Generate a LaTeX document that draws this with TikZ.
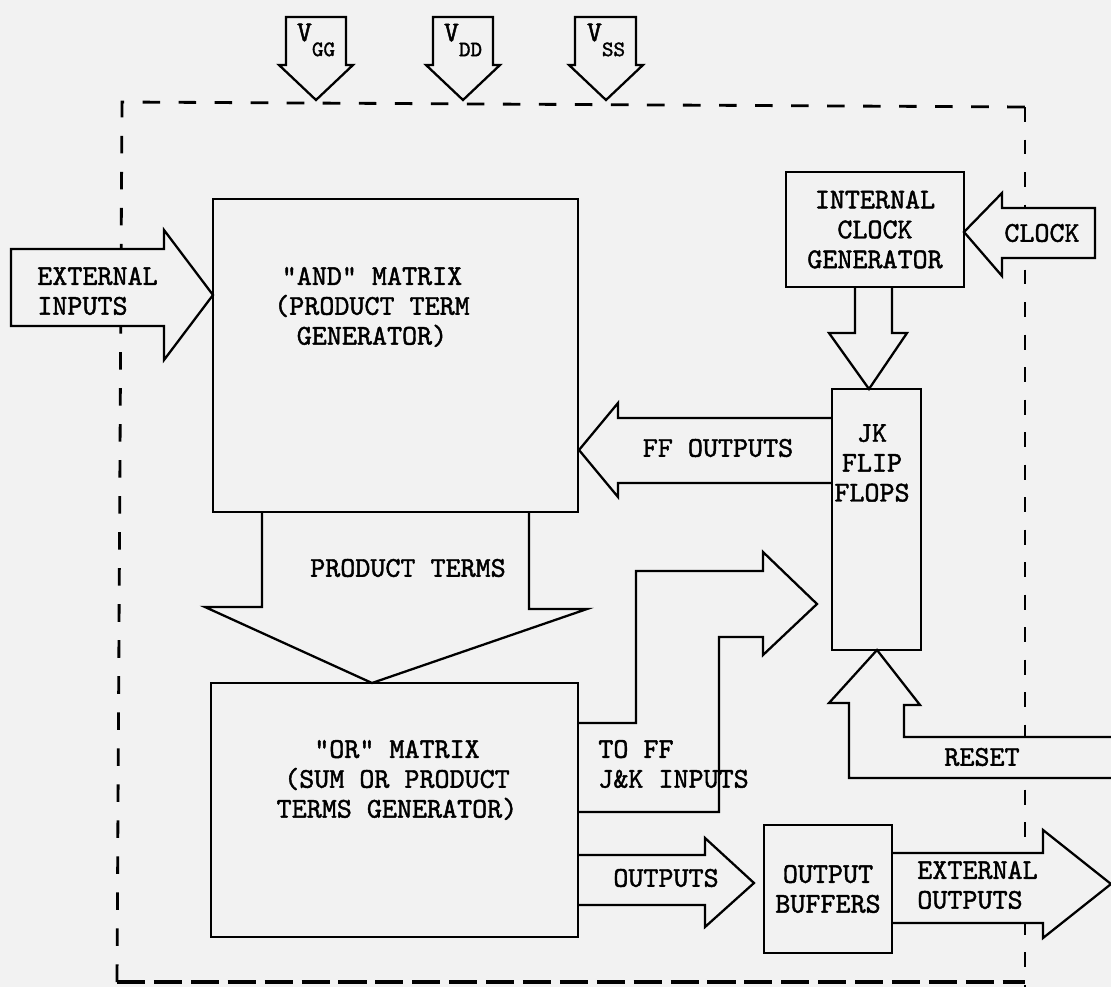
\documentclass[tikz,border=0pt]{standalone}
\usepackage{fontspec}
\usepackage{tikz}
\newfontfamily\typed{lmmono10-regular.otf}[FakeBold=1.5]
\colorlet{paper}{black!5}
\tikzset{>=latex}
\tikzset{
    box/.style={draw, line width=1.3pt, inner sep=0pt, align=center,
        font=\typed\fontsize{16.3}{17}\selectfont},
    blk/.style={draw, fill=paper, line width=1.3pt, line join=miter},
    lbl/.style={inner sep=0pt, align=center, font=\typed\fontsize{16.3}{17}\selectfont},
    sub/.style={font=\typed\fontsize{12.5}{12.5}\selectfont},
}

\begin{document}
\begin{tikzpicture}[x=0.2mm, y=-0.2mm]
    \useasboundingbox[fill=paper] (0,0) rectangle (1111,987);
    % chip outline
    \draw[line width=1.6pt, dash pattern=on 10pt off 10.5pt] (117,982)--(122,102)--(1025,107);
    \draw[line width=1.6pt, dash pattern=on 8.5pt off 10pt] (1025,107)--(1025,987);
    \draw[line width=2.8pt, dash pattern=on 16pt off 5pt] (117,982)--(1025,982);

    % supplies
    \draw[blk](286,17)--(346,17)--(346,65)--(353,65)--(316,100)--(279,65)--(286,65)--cycle;
    \draw[blk](433,17)--(493,17)--(493,65)--(500,65)--(463,100)--(426,65)--(433,65)--cycle;
    \draw[blk](575,17)--(636,17)--(636,65)--(643,65)--(606,100)--(569,65)--(575,65)--cycle;
    \node[lbl] (vgg) at (316,40) {V\raisebox{-8.5pt}{\tikz[baseline]\node[sub,inner sep=0pt,anchor=base]{GG};}};
    \node[lbl] (vdd) at (463,40) {V\raisebox{-8.5pt}{\tikz[baseline]\node[sub,inner sep=0pt,anchor=base]{DD};}};
    \node[lbl] (vss) at (606,40) {V\raisebox{-8.5pt}{\tikz[baseline]\node[sub,inner sep=0pt,anchor=base]{SS};}};

    % inputs
    \draw[blk](11,249)--(164,249)--(164,230)--(213,295)--(164,360)--(164,326)--(11,326)--cycle;
    \node[lbl, anchor=west, align=left] (extin) at (37,291) {EXTERNAL\\INPUTS};
    \draw[blk](964,232)--(1002,193)--(1002,208)--(1095,208)--(1095,258)--(1002,258)--(1002,276)--cycle;
    \node[lbl] (clk) at (1042,233) {CLOCK};
    \draw[blk](855,287)--(855,333)--(829,333)--(869,389)--(907,333)--(892,333)--(892,287);
    \draw[blk](1111,737)--(904,737)--(904,705)--(920,705)--(877,650)--(829,703)--(849,703)--(849,778)--(1111,778);
    \node[lbl] (reset) at (982,757) {RESET};

    % internal paths
    \draw[blk](262,512)--(262,607)--(205,607)--(372,683)--(587,609)--(529,609)--(529,512);
    \node[lbl] (pterms) at (408,568) {PRODUCT TERMS};
    \draw[blk](832,418)--(618,418)--(618,403)--(579,450)--(618,497)--(618,483)--(832,483);
    \node[lbl] (ffout) at (718,448) {FF OUTPUTS};
    \draw[blk](578,723)--(636,723)--(636,571)--(763,571)--(763,552)--(817,604)--(763,655)--(763,637)--(719,637)--(719,812)--(578,812);
    \node[lbl, anchor=west, align=left] (toff) at (598,764) {TO FF\\J\&K INPUTS};

    % outputs
    \draw[blk](578,855)--(705,855)--(705,838)--(754,883)--(705,927)--(705,905)--(578,905);
    \node[lbl] (outs) at (666,878) {OUTPUTS};
    \draw[blk](892,853)--(1043,853)--(1043,830)--(1111,884)--(1043,938)--(1043,923)--(892,923);
    \node[lbl, anchor=west, align=left] (extout) at (917,885) {EXTERNAL\\OUTPUTS};

    % blocks
    \node[box, minimum width=73mm, minimum height=62.6mm] (andm) at (395.5,355.5) {};
    \node[box, minimum width=73.4mm, minimum height=50.8mm] (orm) at (394.5,810) {};
    \node[box, minimum width=35.6mm, minimum height=23mm] (clkgen) at (875,229.5) {INTERNAL\\CLOCK\\GENERATOR};
    \node[box, minimum width=17.8mm, minimum height=52.2mm] (jkff) at (876.5,519.5) {};
    \node[box, minimum width=25.6mm, minimum height=25.6mm] (outbuf) at (828,889) {OUTPUT\\BUFFERS};
    \node[lbl] (andtxt) at (372,307) {"AND" MATRIX\\(PRODUCT TERM\\GENERATOR)};
    \node[lbl] (ortxt) at (397,780) {"OR" MATRIX\\(SUM OR PRODUCT\\TERMS GENERATOR)};
    \node[lbl] (jktxt) at (872,463) {JK\\FLIP\\FLOPS};
\end{tikzpicture}
\end{document}
